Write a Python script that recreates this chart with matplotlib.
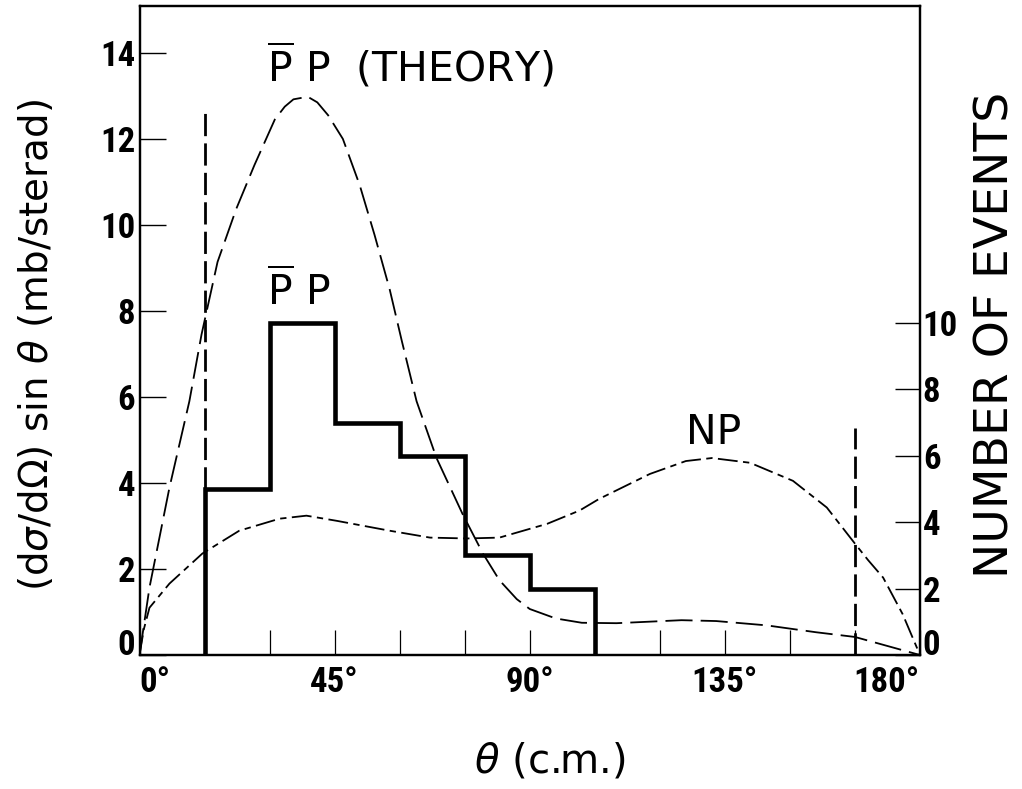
import matplotlib
matplotlib.use("Agg")
import matplotlib.pyplot as plt
from matplotlib import font_manager

# ---------------- data ----------------
theory_deg = [0, 2.3, 6.9, 11.5, 14.3, 18, 22.3, 26.5, 31.2, 33.5, 35.5, 38.8, 41, 43.5, 46.9,
              50.8, 54.2, 57.7, 60.5, 63.9, 68.5, 74.5, 79.2, 83, 87, 90, 96, 102, 110,
              125, 133, 144.6, 156, 165, 180]
theory_val = [0, 1.57, 3.89, 5.9, 7.45, 9.14, 10.37, 11.39, 12.45, 12.75, 12.92, 12.98, 12.85, 12.55, 12.0,
              10.92, 9.77, 8.5, 7.3, 5.9, 4.58, 3.28, 2.36, 1.74, 1.3, 1.07, 0.85, 0.75, 0.74,
              0.81, 0.79, 0.69, 0.53, 0.42, 0]

np_deg = [0, 1, 2.3, 6.9, 14.5, 23, 32.3, 38.5, 45.5, 57.7, 67, 75.5, 83, 94, 101.5,
          106, 117.7, 126, 132, 140.8, 150.7, 158.5, 165, 168, 171.5, 176, 180]
np_val = [0, 0.6, 1.1, 1.66, 2.36, 2.89, 3.17, 3.24, 3.12, 2.89, 2.73, 2.71, 2.73, 3.05, 3.36,
          3.63, 4.21, 4.51, 4.58, 4.47, 4.05, 3.43, 2.59, 2.21, 1.8, 0.95, 0]

hist_edges = [15, 30, 45, 60, 75, 90, 105]
hist_counts = [5, 10, 7, 6, 3, 2]

cut_angles = [15, 165]
cut_bottoms = [3.85, 0]
cut_tops = [12.65, 5.28]

x_ticks = [0, 45, 90, 135, 180]
x_minor = [15, 30, 60, 75, 105, 120, 150, 165]
x_ticklabels = ["0°", "45°", "90°", "135°", "180°"]
y_ticks = [0, 2, 4, 6, 8, 10, 12, 14]
y2_ticks = [0, 2, 4, 6, 8, 10]

# ---------------- fonts ----------------
def pick(names):
    avail = {f.name for f in font_manager.fontManager.ttflist}
    for n in names:
        if n in avail:
            return n
    return "DejaVu Sans"

narrow = pick(["Liberation Sans Narrow", "DejaVu Sans Condensed", "Roboto Condensed", "Liberation Sans"])
plt.rcParams["font.family"] = ["DejaVu Sans"]
plt.rcParams["mathtext.fontset"] = "dejavusans"

fig = plt.figure(figsize=(10.22, 7.89), dpi=100)
ax = fig.add_axes([0.1365, 0.1698, 0.9002 - 0.1365, 0.9924 - 0.1698])
ax2 = ax.twinx()

ax.set_xlim(0, 180)
ax.set_ylim(0, 15.09)
ax2.set_ylim(0, 19.55)

# curves
ax.plot(theory_deg, theory_val, color="black", lw=1.3, dashes=(15, 4.5))
ax.plot(np_deg, np_val, color="black", lw=1.3, dashes=(11, 3, 3.5, 3))
ax.vlines(cut_angles, cut_bottoms, cut_tops, color="black", lw=2.0, linestyles=(0, (8, 2.6)))

# histogram
ax2.stairs(hist_counts, hist_edges, baseline=0, fill=False, color="black", lw=3.3)

# ticks
tick_font = dict(fontfamily=narrow, fontweight="bold", fontsize=25)
ax.set_xticks(x_ticks)
ax.set_xticks(x_minor, minor=True)
ax.set_xticklabels(x_ticklabels, **tick_font)
xl = ax.get_xticklabels()
xl[0].set_ha("left")
xl[-1].set_ha("right")
ax.set_yticks(y_ticks)
ax.set_yticklabels([str(v) for v in y_ticks], **tick_font)
ax.get_yticklabels()[0].set_va("baseline")
ax.tick_params(axis="x", which="both", direction="in", length=18, width=0.9, pad=8, top=False)
ax.tick_params(axis="y", which="both", direction="in", length=19, width=1.0, pad=3, right=False)
ax2.set_yticks(y2_ticks)
ax2.set_yticklabels([str(v) for v in y2_ticks], **tick_font)
ax2.get_yticklabels()[0].set_va("baseline")
ax2.tick_params(axis="y", direction="in", length=18, width=1.0, pad=2)

for a in (ax, ax2):
    for s in a.spines.values():
        s.set_linewidth(1.6)
        s.set_color("black")

# text labels
ax.text(62.4, 13.7, r"$\overline{\mathrm{P}}\ \mathrm{P}$  (THEORY)", fontsize=29.5,
        ha="center", va="center")
ax.text(36.8, 8.45, r"$\overline{\mathrm{P}}\ \mathrm{P}$", fontsize=29.5, ha="center", va="center")
ax.text(132.5, 5.16, "NP", fontsize=29.5, ha="center", va="center")

fig.text(37 / 1022, 1 - 345 / 789, r"(d$\sigma$/d$\Omega$) sin $\theta$ (mb/sterad)",
         rotation=90, fontsize=28, ha="center", va="center")
fig.text(996 / 1022, 1 - 335 / 789, "NUMBER OF EVENTS", rotation=90, fontsize=34,
         ha="center", va="center")
fig.text(550 / 1022, 1 - 762 / 789, r"$\theta$ (c.m.)", fontsize=29, ha="center", va="center")

fig.savefig("out.png", dpi=100)
